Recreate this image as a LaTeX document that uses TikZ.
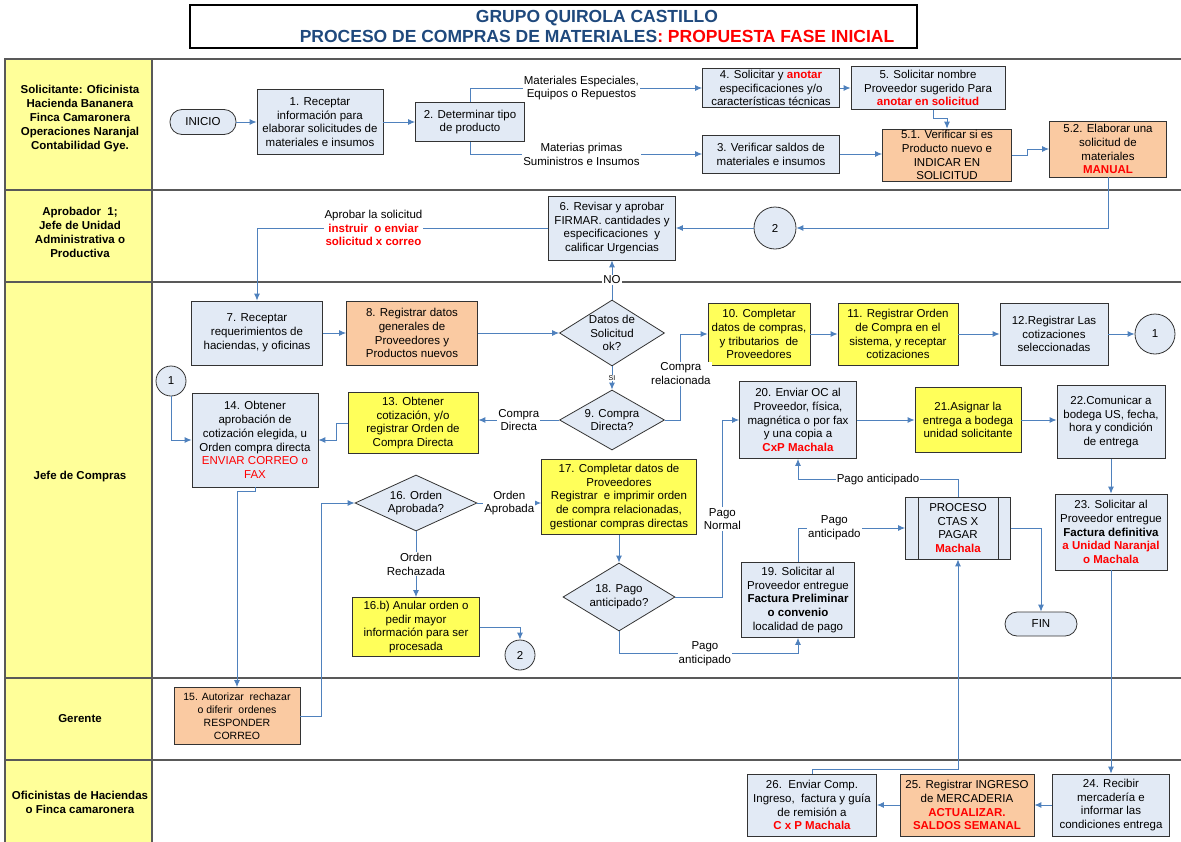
\documentclass[tikz,border=0pt]{standalone}
\usepackage{fontspec}
\setmainfont{Liberation Sans}
\usepackage{tikz}
\usetikzlibrary{shapes.geometric, arrows.meta, positioning}
\definecolor{boxblue}{RGB}{226,234,245}
\definecolor{boxyellow}{RGB}{255,255,90}
\definecolor{boxorange}{RGB}{250,202,162}
\definecolor{laneyellow}{RGB}{255,255,153}
\definecolor{lineblue}{RGB}{79,129,189}
\definecolor{titleblue}{RGB}{31,73,125}
\newcommand{\redbf}[1]{\textcolor{red}{\textbf{#1}}}
\newcommand{\redtx}[1]{\textcolor{red}{#1}}

\begin{document}
\begin{tikzpicture}[x=1pt, y=-1pt, font=\fontsize{11.5}{13.8}\selectfont,
  box/.style={draw=black!80, fill=boxblue, align=center, inner sep=1pt, line width=0.8pt},
  ybox/.style={box, fill=boxyellow},
  obox/.style={box, fill=boxorange},
  dec/.style={diamond, draw=black!80, fill=boxblue, line width=0.8pt, inner sep=0pt},
  term/.style={draw=black!80, fill=boxblue, rounded corners=12pt, line width=0.8pt},
  conn/.style={circle, draw=black!80, fill=boxblue, line width=0.8pt, inner sep=0pt},
  arr/.style={draw=lineblue, line width=0.9pt, -{Latex[length=7pt, width=6pt]}},
  lbl/.style={fill=white, align=center, inner sep=1pt},
  lane/.style={align=center, font=\fontsize{11.5}{14}\selectfont\bfseries},
  lanegray/.style={draw=black!65, line width=1.4pt}]
  \useasboundingbox (0,0) rectangle (1181,841);

  % title
  \node[draw, line width=1.5pt, minimum width=727pt, minimum height=43pt] (ttl) at (553.5,26.5) {};
  \node[align=center, text=titleblue, font=\fontsize{17.5}{20}\selectfont\bfseries] (ttxt) at (597,26.5)
    {GRUPO QUIROLA CASTILLO\\PROCESO DE COMPRAS DE MATERIALES\textcolor{red}{: PROPUESTA FASE INICIAL}};

  % swimlanes
  \fill[laneyellow] (5,59) rectangle (152,845);
  \draw[lanegray] (5,59) rectangle (1195,845);
  \foreach \yy in {190,282,678,760}
    \draw[lanegray] (5,\yy) -- (1195,\yy);
  \draw[lanegray] (152,59) -- (152,845);
  \node[lane] (l1) at (80,119) {Solicitante: Oficinista\\Hacienda Bananera\\Finca Camaronera\\Operaciones Naranjal\\Contabilidad Gye.};
  \node[lane] (l2) at (80,232) {Aprobador\ \ 1;\\Jefe de Unidad\\Administrativa o\\Productiva};
  \node[lane] (l3) at (80,477) {Jefe de Compras};
  \node[lane] (l4) at (80,719) {Gerente};
  \node[lane] (l5) at (80,802) {Oficinistas de Haciendas\\o Finca camaronera};

  % lane 1
  \node[term, minimum width=66pt, minimum height=25pt] (ini) at (203,122) {INICIO};
  \node[box, minimum width=126pt, minimum height=65pt] (b1) at (320,122) {1. Receptar\\información para\\elaborar solicitudes de\\materiales e insumos};
  \node[box, minimum width=109pt, minimum height=39pt] (b2) at (470,122) {2. Determinar tipo\\de producto};
  \node[box, minimum width=137pt, minimum height=39pt] (b4) at (771,88) {4. Solicitar y \redbf{anotar}\\especificaciones y/o\\características técnicas};
  \node[box, minimum width=154pt, minimum height=43pt] (b5) at (928,88) {5. Solicitar nombre\\Proveedor sugerido Para\\\redbf{anotar en solicitud}};
  \node[box, minimum width=137pt, minimum height=38pt] (b3) at (771,154) {3. Verificar saldos de\\materiales e insumos};
  \node[obox, minimum width=129pt, minimum height=50pt] (b51) at (947,155) {5.1. Verificar si es\\Producto nuevo e\\INDICAR EN\\SOLICITUD};
  \node[obox, minimum width=117pt, minimum height=56pt] (b52) at (1108,149) {5.2. Elaborar una\\solicitud de\\materiales\\\redbf{MANUAL}};

  % lane 2
  \node[conn, minimum size=42pt] (c2a) at (775,228) {2};
  \node[box, minimum width=127pt, minimum height=64pt] (b6) at (612,228) {6. Revisar y aprobar\\FIRMAR. cantidades y\\especificaciones\ \ y\\calificar Urgencias};

  % lane 3
  \node[box, minimum width=131pt, minimum height=64pt] (b7) at (257,333) {7. Receptar\\requerimientos de\\haciendas, y oficinas};
  \node[obox, minimum width=131pt, minimum height=64pt] (b8) at (412,333) {8. Registrar datos\\generales de\\Proveedores y\\Productos nuevos};
  \node[dec, minimum width=105pt, minimum height=66pt, label={[align=center]center:{Datos de\\Solicitud\\ok?}}] (d1) at (612,333) {};
  \node[dec, minimum width=105pt, minimum height=60pt, label={[align=center]center:{9. Compra\\Directa?}}] (d9) at (612,420) {};
  \node[ybox, minimum width=102pt, minimum height=62pt] (b10) at (759,334) {10. Completar\\datos de compras,\\y tributarios\ \ de\\Proveedores};
  \node[ybox, minimum width=120pt, minimum height=62pt] (b11) at (898,334) {11. Registrar Orden\\de Compra en el\\sistema, y receptar\\cotizaciones};
  \node[box, minimum width=108pt, minimum height=62pt] (b12) at (1054,334) {12.Registrar Las\\cotizaciones\\seleccionadas};
  \node[conn, minimum size=40pt] (c1a) at (1155,334) {1};
  \node[ybox, minimum width=130pt, minimum height=61pt] (b13) at (413,423) {13. Obtener\\cotización, y/o\\registrar Orden de\\Compra Directa};
  \node[box, minimum width=126pt, minimum height=94pt] (b14) at (255,440) {14. Obtener\\aprobación de\\cotización elegida, u\\Orden compra directa\\\redtx{ENVIAR CORREO o}\\\redtx{FAX}};
  \node[conn, minimum size=30pt] (c1b) at (171,381) {1};
  \node[dec, minimum width=122pt, minimum height=56pt, label={[align=center]center:{16. Orden\\Aprobada?}}] (d16) at (416,503) {};
  \node[ybox, minimum width=127pt, minimum height=59pt] (b16b) at (416,627) {16.b) Anular orden o\\pedir mayor\\información para ser\\procesada};
  \node[conn, minimum size=30pt] (c2b) at (520,655) {2};
  \node[ybox, minimum width=155pt, minimum height=75pt] (b17) at (619,497) {17. Completar datos de\\Proveedores\\Registrar\ \ e imprimir orden\\de compra relacionadas,\\gestionar compras directas};
  \node[dec, minimum width=112pt, minimum height=68pt, label={[align=center]center:{18. Pago\\anticipado?}}] (d18) at (619,597) {};
  \node[box, minimum width=113pt, minimum height=75pt] (b19) at (798,600) {19. Solicitar al\\Proveedor entregue\\\textbf{Factura Preliminar}\\\textbf{o convenio}\\localidad de pago};
  \node[box, minimum width=105pt, minimum height=62pt] (proc) at (958,528) {PROCESO\\CTAS X\\PAGAR\\\redbf{Machala}};
  \draw[draw=black!80, line width=0.8pt] ([xshift=13pt]proc.north west) -- ([xshift=13pt]proc.south west);
  \draw[draw=black!80, line width=0.8pt] ([xshift=-13pt]proc.north east) -- ([xshift=-13pt]proc.south east);
  \node[term, minimum width=72pt, minimum height=24pt] (fin) at (1041,624) {FIN};
  \node[box, minimum width=117pt, minimum height=77pt] (b20) at (798,420) {20. Enviar OC al\\Proveedor, física,\\magnética o por fax\\y una copia a\\\redbf{CxP Machala}};
  \node[ybox, minimum width=106pt, minimum height=65pt] (b21) at (968,420) {21.Asignar la\\entrega a bodega\\unidad solicitante};
  \node[box, minimum width=108pt, minimum height=73pt] (b22) at (1111,422) {22.Comunicar a\\bodega US, fecha,\\hora y condición\\de entrega};
  \node[box, minimum width=112pt, minimum height=76pt] (b23) at (1111,532) {23. Solicitar al\\Proveedor entregue\\\textbf{Factura definitiva}\\\redbf{a Unidad Naranjal}\\\redbf{o Machala}};

  % lane 4
  \node[obox, minimum width=126pt, minimum height=57pt, font=\fontsize{10.5}{13}\selectfont] (b15) at (237,716) {15. Autorizar\ \ rechazar\\o diferir\ \ ordenes\\RESPONDER\\CORREO};

  % lane 5
  \node[box, minimum width=117pt, minimum height=62pt] (b24) at (1111,805) {24. Recibir\\mercadería e\\informar las\\condiciones entrega};
  \node[obox, minimum width=134pt, minimum height=62pt] (b25) at (967,805) {25. Registrar INGRESO\\de MERCADERIA\\\redbf{ACTUALIZAR.}\\\redbf{SALDOS SEMANAL}};
  \node[box, minimum width=129pt, minimum height=62pt] (b26) at (812,805) {26.\ \ Enviar Comp.\\Ingreso,\ \ factura y guía\\de remisión a\\\redbf{C x P Machala}};

  % connectors
  \draw[arr] (ini) -- (b1);
  \draw[arr] (b1) -- (b2);
  \draw[arr] (b2.north) |- node[lbl, pos=0.74] {Materiales Especiales,\\Equipos o Repuestos} (b4.west);
  \draw[arr] (b2.south) |- node[lbl, pos=0.74] {Materias primas\\Suministros e Insumos} (b3.west);
  \draw[arr] (b4) -- (b5);
  \draw[arr] ([xshift=5pt]b5.south) -- ++(0,9) -| (b51.north);
  \draw[arr] (b3.east) -- (b3.east -| b51.west);
  \draw[arr] (b51.east) -- ++(16,0) |- (b52.west);
  \draw[arr] (b52.south) |- (c2a.east);
  \draw[arr] (c2a) -- (b6);
  \draw[arr] (b6.west) -| node[lbl, pos=0.3] {Aprobar la solicitud\\\redbf{instruir\ \ o enviar}\\\redbf{solicitud x correo}} (b7.north);
  \draw[arr] (b7) -- (b8);
  \draw[arr] (b8) -- (d1);
  \draw[arr] (d1) -- node[lbl] {NO} (b6);
  \draw[arr] (d1) -- node[lbl, font=\fontsize{7}{8}\selectfont] {SI} (d9);
  \draw[arr] (d9.east) -- ++(16,0) |- node[lbl, pos=0.27] {Compra\\relacionada} (b10.west);
  \draw[arr] (b10) -- (b11);
  \draw[arr] (b11) -- (b12);
  \draw[arr] (b12) -- (c1a);
  \draw[arr] (d9.west) -- node[lbl] {Compra\\Directa} (d9.west -| b13.east);
  \draw[arr] (b13.west) -- ++(-11,0) |- (b14.east);
  \draw[arr] (c1b.south) |- (b14.west);
  \draw[arr] (b14.south) -- ++(0,4) -| (b15.north);
  \draw[arr] (b15.east) -- ++(21,0) |- (d16.west);
  \draw[arr] (d16.east) -- node[lbl] {Orden\\Aprobada} (d16.east -| b17.west);
  \draw[arr] (d16) -- node[lbl] {Orden\\Rechazada} (b16b);
  \draw[arr] (b16b.east) -| (c2b.north);
  \draw[arr] (b17) -- (d18);
  \draw[arr] (d18.east) -- ++(47,0) |- node[lbl, pos=0.22] {Pago\\Normal} (b20.west);
  \draw[arr] (d18.south) -- ++(0,22) -| node[lbl, pos=0.24] {Pago\\anticipado} (b19.south);
  \draw[arr] (b19.north) |- node[lbl, pos=0.67] {Pago\\anticipado} (proc.west);
  \draw[arr] (proc.north) -- ++(0,-17) -| node[lbl, pos=0.25] {Pago anticipado} (b20.south);
  \draw[arr] (proc.east) -| (fin.north);
  \draw[arr] (b20) -- (b21);
  \draw[arr] (b21.east) -- (b21.east -| b22.west);
  \draw[arr] (b22) -- (b23);
  \draw[arr] (b23) -- (b24);
  \draw[arr] (b24) -- (b25);
  \draw[arr] (b25) -- (b26);
  \draw[arr] (b26.north) -- ++(0,-4) -| (proc.south);
\end{tikzpicture}
\end{document}
